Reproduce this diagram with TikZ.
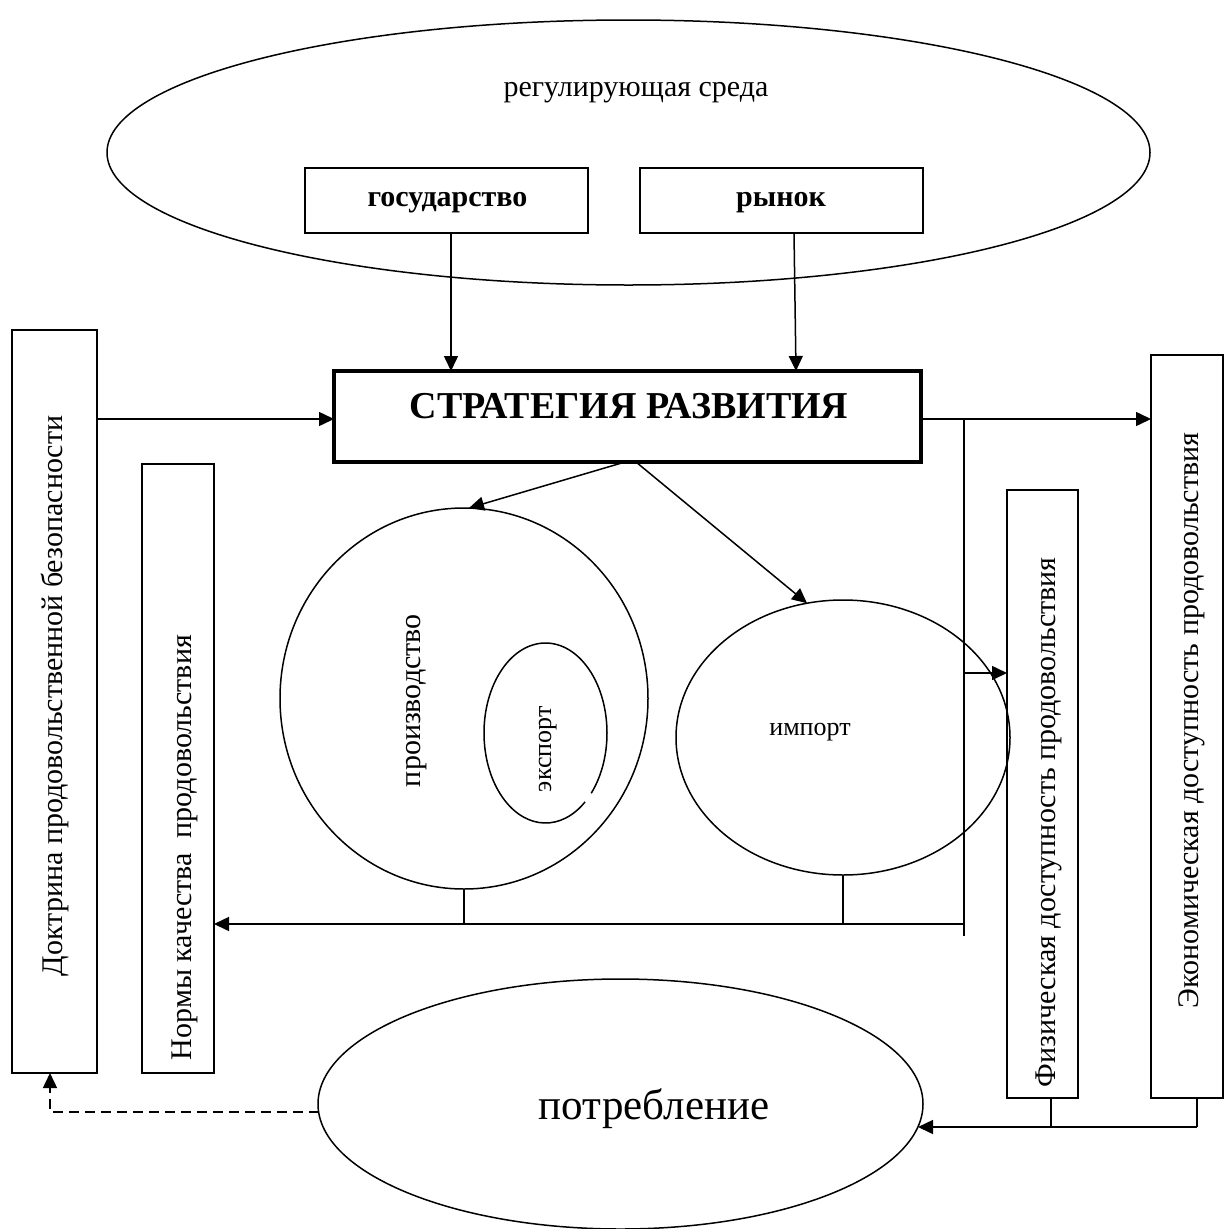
\documentclass[tikz,border=0pt]{standalone}
\usepackage{fontspec}
\setmainfont{Liberation Serif}
\usetikzlibrary{arrows.meta,shapes.geometric,calc}

\begin{document}
\begin{tikzpicture}[x=1pt,y=-1pt,
  line width=1.5pt,
  every node/.style={inner sep=0pt, outer sep=0pt},
  box/.style={draw, rectangle, line width=1.5pt},
  oval/.style={draw, ellipse, line width=1.5pt},
  arr/.style={-{Triangle[length=15pt,width=14pt]}},
  txt/.style={font=\fontsize{30pt}{36pt}\selectfont},
  btxt/.style={font=\fontsize{30pt}{36pt}\selectfont\bfseries},
  smalltxt/.style={font=\fontsize{26pt}{31pt}\selectfont},
  bigtxt/.style={font=\fontsize{43pt}{50pt}\selectfont},
  headtxt/.style={font=\fontsize{38pt}{45pt}\selectfont\bfseries},
  dashline/.style={dash pattern=on 10pt off 6pt},
]
\useasboundingbox (0,0) rectangle (1226,1229);

% regulating environment
\node[oval, minimum width=1043pt, minimum height=265pt] (env) at (628.5,152.5) {};
\node[txt, anchor=base] (envtxt) at (636,96) {регулирующая среда};
\node[box, minimum width=283pt, minimum height=65pt] (gos) at (446.5,200.5) {};
\node[btxt, anchor=base] (gostxt) at (447.5,206) {государство};
\node[box, minimum width=283pt, minimum height=65pt] (ryn) at (781.5,200.5) {};
\node[btxt, anchor=base] (ryntxt) at (781,206) {рынок};

% strategy
\node[draw, rectangle, line width=3.5pt, minimum width=587pt, minimum height=91pt] (strat) at (627.5,416.5) {};
\node[headtxt, anchor=base] (strattxt) at (629,418) {СТРАТЕГИЯ РАЗВИТИЯ};

% left column
\node[box, minimum width=85pt, minimum height=743pt] (doctr) at (54.5,701.5) {};
\node[txt, rotate=90, anchor=base west] (doctrtxt) at (62,976) {Доктрина продовольственной безопасности};
\node[box, minimum width=72pt, minimum height=609pt] (norm) at (178,768.5) {};
\node[txt, rotate=90, anchor=base west] (normtxt) at (191,1060) {Нормы качества\ \ продовольствия};

% right column
\node[box, minimum width=71pt, minimum height=608pt] (phys) at (1042.5,794) {};
\node[txt, rotate=90, anchor=base west] (phystxt) at (1055,1087) {Физическая доступность продовольствия};
\node[box, minimum width=72pt, minimum height=743pt] (econ) at (1187,726.5) {};
\node[txt, rotate=90, anchor=base west] (econtxt) at (1198,1008) {Экономическая доступность продовольствия};

% production, export, import
\node[oval, minimum width=368pt, minimum height=381pt] (prod) at (464,698.5) {};
\node[txt, rotate=90, anchor=base west] (prodtxt) at (420,787) {производство};
\node[ellipse, minimum width=123pt, minimum height=180pt] (exp) at (545.5,733) {};
\draw (exp.center) ++(-42:61.5pt and 90pt)
  arc[start angle=-42, end angle=310, x radius=61.5pt, y radius=90pt];
\node[smalltxt, rotate=90, anchor=base west] (exptxt) at (551,792) {экспорт};
\node[oval, minimum width=334pt, minimum height=275pt] (imp) at (843,737.5) {};
\node[smalltxt, anchor=base] (imptxt) at (810,735) {импорт};

% consumption
\node[oval, minimum width=605pt, minimum height=250pt] (cons) at (620.5,1104) {};
\node[bigtxt, anchor=base] (constxt) at (654,1119) {потребление};

% bus coordinates
\coordinate (busTop) at (964,419);
\coordinate (busBot) at (964,936);
\coordinate (busNorm) at (964,924);
\coordinate (busPhys) at (964,673);
\coordinate (joinPhys) at (1051,1127);
\coordinate (joinEcon) at (1197,1127);
\coordinate (consIn) at (918,1127);
\coordinate (consOut) at (318.5,1112);

% connectors
\draw[arr] (gos.south -| 451,0) -- (strat.north -| 451,0);
\draw[arr] (ryn.south -| 794,0) -- (strat.north -| 796,0);
\draw[arr] (doctr.east |- 0,419) -- (strat.west |- 0,419);
\draw[arr] (strat.east |- 0,419) -- (econ.west |- 0,419);
\draw (busTop) -- (busBot);
\draw[arr] (busPhys) -- (phys.west |- busPhys);
\draw[arr] (busNorm) -- (norm.east |- busNorm);
\draw (prod.south) -- (prod.south |- busNorm);
\draw (imp.south) -- (imp.south |- busNorm);
\draw[arr] (strat.south -| 625,0) -- (prod.north -| 469,0);
\draw[arr] (strat.south -| 636,0) -- (imp.105);
\draw (phys.south -| joinPhys) -- (joinPhys);
\draw (econ.south -| joinEcon) -- (joinEcon);
\draw[arr] (joinEcon) -- (consIn);
\draw[arr, dashline] (consOut) -| (doctr.south -| 50,0);
\end{tikzpicture}
\end{document}
